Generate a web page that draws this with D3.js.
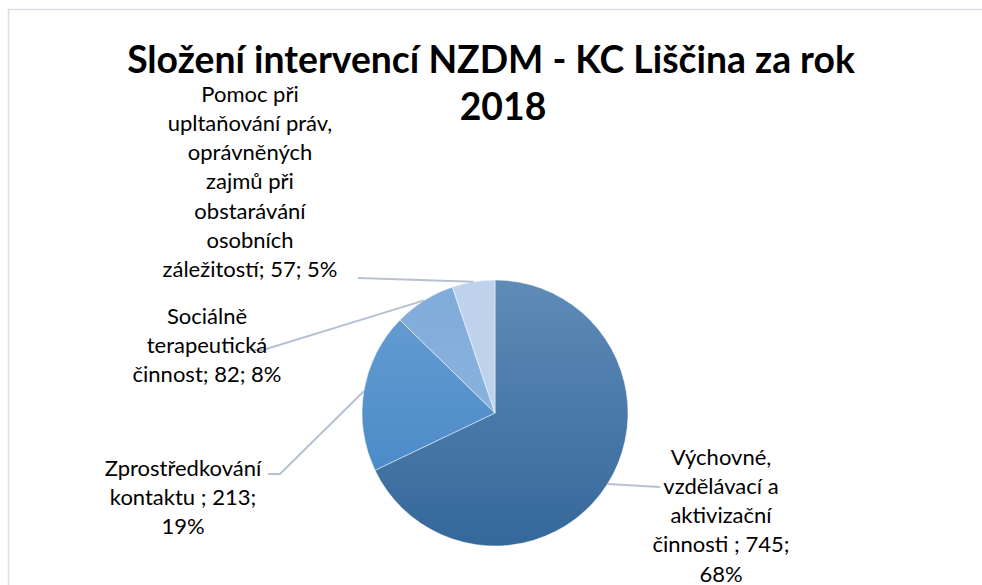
<!DOCTYPE html>
<html>
<head>
<meta charset="utf-8">
<script src="https://cdn.jsdelivr.net/npm/d3@7"></script>
<style>
  body { margin: 0; background: #fff; }
  svg { display: block; }
</style>
</head>
<body>
<script>
// Chart data
const categories = [
  "Výchovné, vzdělávací a aktivizační činnosti ",
  "Zprostředkování kontaktu ",
  "Sociálně terapeutická činnost",
  "Pomoc při upltaňování práv, oprávněných zajmů při obstarávání osobních záležitostí"
];
const values = [745, 213, 82, 57];

// Label text split into lines like the original wrapping
const labelLines = [
  ["Výchovné,", "vzdělávací a", "aktivizační", "činnosti ; 745;", "68%"],
  ["Zprostředkování", "kontaktu ; 213;", "19%"],
  ["Sociálně", "terapeutická", "činnost; 82; 8%"],
  ["Pomoc při", "upltaňování práv,", "oprávněných", "zajmů při", "obstarávání", "osobních", "záležitostí; 57; 5%"]
];

const titleLines = ["Složení intervencí NZDM - KC Liščina za rok", "2018"];

// Slice gradients (top colour, bottom colour)
const sliceColors = [
  ["#5f8bb7", "#34689a"],
  ["#6a9fd3", "#3f83c4"],
  ["#7fabda", "#94bae2"],
  ["#bfd2ec", "#bfd2ec"]
];

const width = 982, height = 585;
const cx = 495, cy = 413, radius = 133;
const lineHeight = 29.3;

// label layout: text centre x, first line centre y, leader end point and elbow
const labelLayout = [
  { x: 721, y: 457, end: [660, 487], elbow: null },
  { x: 183, y: 468, end: [268, 474], elbow: [280, 474] },
  { x: 207, y: 316, end: [250, 350], elbow: [263, 350] },
  { x: 250, y: 94, end: [358, 278], elbow: null }
];

const svg = d3.select("body").append("svg")
  .attr("width", width)
  .attr("height", height);

// chart area border
svg.append("rect")
  .attr("x", 8.5).attr("y", 9.5)
  .attr("width", 1000).attr("height", 700)
  .attr("fill", "#fff")
  .attr("stroke", "#d9dde5")
  .attr("stroke-width", 1.5);

// Title
svg.append("text")
  .attr("text-anchor", "middle")
  .attr("font-family", "Lato, 'Open Sans', sans-serif")
  .attr("font-weight", "bold")
  .attr("font-size", 37.3)
  .attr("fill", "#000")
  .selectAll("tspan")
  .data(titleLines)
  .join("tspan")
  .attr("x", (d, i) => i === 0 ? 491 : 503)
  .attr("y", (d, i) => 73 + i * 47)
  .text(d => d);

// gradients (coordinates are local to the pie group)
const defs = svg.append("defs");
sliceColors.forEach((c, i) => {
  const g = defs.append("linearGradient")
    .attr("id", "grad" + i)
    .attr("gradientUnits", "userSpaceOnUse")
    .attr("x1", 0).attr("x2", 0)
    .attr("y1", -radius).attr("y2", radius);
  g.append("stop").attr("offset", "0%").attr("stop-color", c[0]);
  g.append("stop").attr("offset", "100%").attr("stop-color", c[1]);
});

const pie = d3.pie().sort(null).value(d => d)(values);
const arc = d3.arc().innerRadius(0).outerRadius(radius);

const pieG = svg.append("g").attr("transform", `translate(${cx},${cy})`);
pieG.selectAll("path")
  .data(pie)
  .join("path")
  .attr("d", arc)
  .attr("fill", (d, i) => `url(#grad${i})`)
  .attr("stroke", "rgba(255,255,255,0.6)")
  .attr("stroke-width", 0.8);

// Leader lines from slice mid angle on the rim to the label
pie.forEach((d, i) => {
  const mid = (d.startAngle + d.endAngle) / 2;
  const px = cx + radius * Math.sin(mid);
  const py = cy - radius * Math.cos(mid);
  const lay = labelLayout[i];
  const pts = [[px, py]];
  if (lay.elbow) pts.push(lay.elbow);
  pts.push(lay.end);
  svg.append("path")
    .attr("d", d3.line()(pts))
    .attr("fill", "none")
    .attr("stroke", "#b5c1d3")
    .attr("stroke-width", 2);
});

// Data labels
labelLines.forEach((lines, i) => {
  const lay = labelLayout[i];
  svg.append("text")
    .attr("text-anchor", "middle")
    .attr("font-family", "Lato, 'Open Sans', sans-serif")
    .attr("font-size", 22)
    .attr("fill", "#000")
    .selectAll("tspan")
    .data(lines)
    .join("tspan")
    .attr("x", lay.x)
    .attr("y", (d, j) => lay.y + 7.5 + j * lineHeight)
    .text(d => d);
});
</script>
</body>
</html>
